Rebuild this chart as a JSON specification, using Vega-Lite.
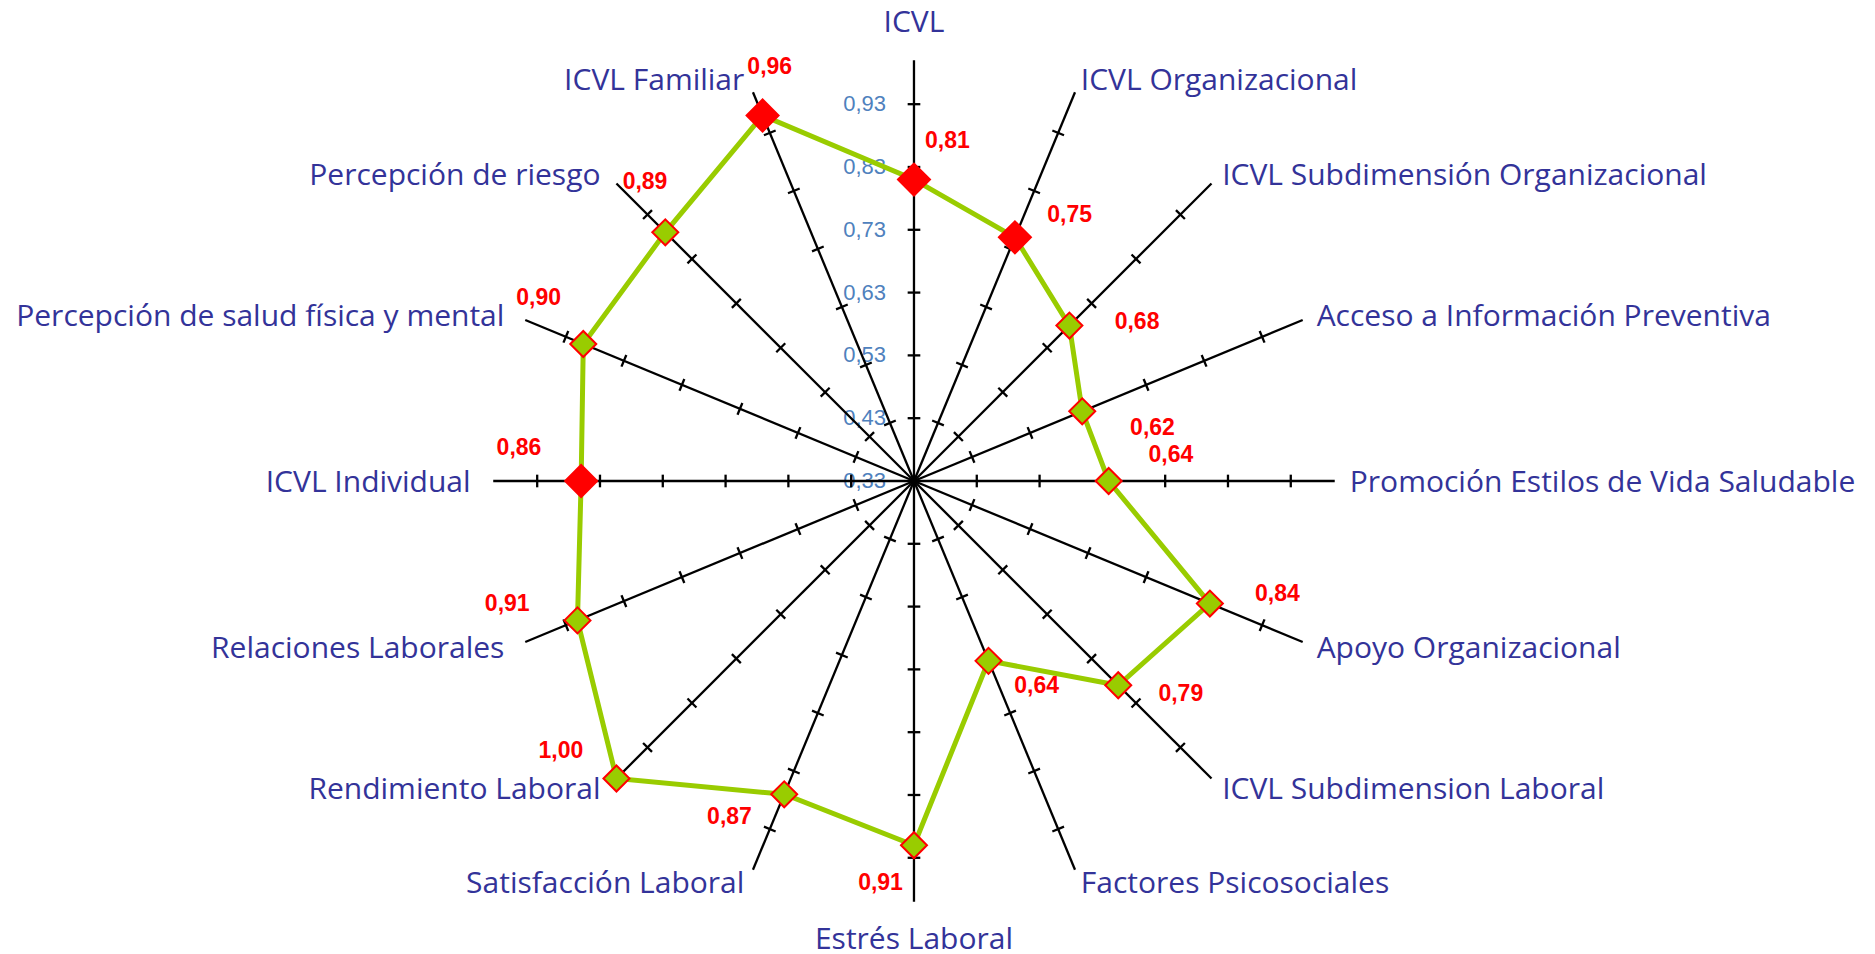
{
  "$schema": "https://vega.github.io/schema/vega-lite/v6.json",
  "width": 1875,
  "height": 954,
  "autosize": {"type": "none"},
  "padding": 0,
  "background": "white",
  "config": {"view": {"stroke": null}},
  "datasets": {
    "ejes": [
      {"idx": 0, "eje": "ICVL", "value": 0.81, "tipo": "indice"},
      {"idx": 1, "eje": "ICVL Organizacional", "value": 0.75, "tipo": "indice"},
      {"idx": 2, "eje": "ICVL Subdimensión Organizacional", "value": 0.68, "tipo": "subdimension"},
      {"idx": 3, "eje": "Acceso a Información Preventiva", "value": 0.62, "tipo": "subdimension"},
      {"idx": 4, "eje": "Promoción Estilos de Vida Saludable", "value": 0.64, "tipo": "subdimension"},
      {"idx": 5, "eje": "Apoyo Organizacional", "value": 0.84, "tipo": "subdimension"},
      {"idx": 6, "eje": "ICVL Subdimension Laboral", "value": 0.79, "tipo": "subdimension"},
      {"idx": 7, "eje": "Factores Psicosociales", "value": 0.64, "tipo": "subdimension"},
      {"idx": 8, "eje": "Estrés Laboral", "value": 0.91, "tipo": "subdimension"},
      {"idx": 9, "eje": "Satisfacción Laboral", "value": 0.87, "tipo": "subdimension"},
      {"idx": 10, "eje": "Rendimiento Laboral", "value": 1.0, "tipo": "subdimension"},
      {"idx": 11, "eje": "Relaciones Laborales", "value": 0.91, "tipo": "subdimension"},
      {"idx": 12, "eje": "ICVL Individual", "value": 0.86, "tipo": "indice"},
      {"idx": 13, "eje": "Percepción de salud física y mental", "value": 0.9, "tipo": "subdimension"},
      {"idx": 14, "eje": "Percepción de riesgo", "value": 0.89, "tipo": "subdimension"},
      {"idx": 15, "eje": "ICVL Familiar", "value": 0.96, "tipo": "indice"}
    ],
    "escala": [
      {"valor": 0.33}, {"valor": 0.43}, {"valor": 0.53}, {"valor": 0.63},
      {"valor": 0.73}, {"valor": 0.83}, {"valor": 0.93}
    ],
    "marcas": [
      {"valor": 0.43, "idx": [0,1,2,3,4,5,6,7,8,9,10,11,12,13,14,15]},
      {"valor": 0.53, "idx": [0,1,2,3,4,5,6,7,8,9,10,11,12,13,14,15]},
      {"valor": 0.63, "idx": [0,1,2,3,4,5,6,7,8,9,10,11,12,13,14,15]},
      {"valor": 0.73, "idx": [0,1,2,3,4,5,6,7,8,9,10,11,12,13,14,15]},
      {"valor": 0.83, "idx": [0,1,2,3,4,5,6,7,8,9,10,11,12,13,14,15]},
      {"valor": 0.93, "idx": [0,1,2,3,4,5,6,7,8,9,10,11,12,13,14,15]}
    ]
  },
  "data": {"name": "ejes"},
  "transform": [
    {"calculate": "datum.idx * PI / 8", "as": "theta"},
    {"calculate": "datum.value - 0.33", "as": "r"},
    {"calculate": "datum.r * sin(datum.theta)", "as": "x"},
    {"calculate": "datum.r * cos(datum.theta)", "as": "y"},
    {"calculate": "0.67 * sin(datum.theta)", "as": "ex"},
    {"calculate": "0.67 * cos(datum.theta)", "as": "ey"},
    {"calculate": "0", "as": "zero"},
    {"calculate": "replace(format(datum.value, '.2f'), '.', ',')", "as": "t"},
    {"calculate": "datum.theta > 1.5 && datum.theta < 3.1 ? -0.0419 : (datum.r > 0.66 ? 0.0857 : 0.0533)", "as": "tq"},
    {"calculate": "datum.r > 0.66 ? 0.4 : 1", "as": "oq"},
    {"calculate": "datum.x + datum.oq * 0.099 * sin(datum.theta) + datum.tq * cos(datum.theta)", "as": "vx"},
    {"calculate": "datum.y + datum.oq * 0.0609 * cos(datum.theta) - datum.tq * sin(datum.theta)", "as": "vy"},
    {"calculate": "datum.idx == 0 || datum.idx == 8 ? 'c' : (datum.idx < 8 ? 'r' : 'l')", "as": "lado"},
    {"calculate": "datum.ex + sin(datum.theta) * (datum.idx < 8 ? 0.024 : 0.036)", "as": "lx"},
    {"calculate": "datum.ey + cos(datum.theta) * (datum.lado == 'c' ? (datum.idx == 0 ? 0.063 : 0.057) : 0.022)", "as": "ly"}
  ],
  "layer": [
    {
      "data": {"name": "escala"},
      "transform": [
        {"calculate": "datum.valor - 0.33", "as": "y"},
        {"calculate": "0", "as": "x"},
        {"calculate": "replace(format(datum.valor, '.2f'), '.', ',')", "as": "t"}
      ],
      "mark": {"type": "text", "align": "right", "baseline": "middle", "dx": -28, "font": "Liberation Sans", "fontSize": 22, "fill": "#4F81BD"},
      "encoding": {
        "x": {"field": "x", "type": "quantitative", "scale": {"domain": [-1.4554, 1.5303], "nice": false, "zero": false}, "axis": null},
        "y": {"field": "y", "type": "quantitative", "scale": {"domain": [-0.7532, 0.7659], "nice": false, "zero": false}, "axis": null},
        "text": {"field": "t"}
      }
    },
    {
      "mark": {"type": "rule", "stroke": "#000000", "strokeWidth": 2.3},
      "encoding": {
        "x": {"field": "zero", "type": "quantitative", "scale": {"domain": [-1.4554, 1.5303], "nice": false, "zero": false}, "axis": null},
        "y": {"field": "zero", "type": "quantitative", "scale": {"domain": [-0.7532, 0.7659], "nice": false, "zero": false}, "axis": null},
        "x2": {"field": "ex"},
        "y2": {"field": "ey"}
      }
    },
    {
      "data": {"name": "marcas"},
      "transform": [
        {"flatten": ["idx"]},
        {"calculate": "datum.idx * PI / 8", "as": "theta"},
        {"calculate": "(datum.valor - 0.33) * sin(datum.theta)", "as": "x"},
        {"calculate": "(datum.valor - 0.33) * cos(datum.theta)", "as": "y"},
        {"calculate": "datum.idx * 22.5", "as": "deg"}
      ],
      "mark": {"type": "point", "shape": "M-1,0L1,0", "size": 160, "filled": false, "stroke": "#000000", "strokeWidth": 2.3, "opacity": 1},
      "encoding": {
        "x": {"field": "x", "type": "quantitative", "scale": {"domain": [-1.4554, 1.5303], "nice": false, "zero": false}, "axis": null},
        "y": {"field": "y", "type": "quantitative", "scale": {"domain": [-0.7532, 0.7659], "nice": false, "zero": false}, "axis": null},
        "angle": {"field": "deg", "type": "quantitative", "scale": null}
      }
    },
    {
      "mark": {"type": "line", "interpolate": "linear-closed", "stroke": "#99CC00", "strokeWidth": 5},
      "encoding": {
        "x": {"field": "x", "type": "quantitative", "scale": {"domain": [-1.4554, 1.5303], "nice": false, "zero": false}, "axis": null},
        "y": {"field": "y", "type": "quantitative", "scale": {"domain": [-0.7532, 0.7659], "nice": false, "zero": false}, "axis": null},
        "order": {"field": "idx", "type": "quantitative"}
      }
    },
    {
      "mark": {"type": "point", "shape": "diamond", "filled": true, "opacity": 1, "stroke": "#FF0000", "strokeWidth": 2},
      "encoding": {
        "x": {"field": "x", "type": "quantitative", "scale": {"domain": [-1.4554, 1.5303], "nice": false, "zero": false}, "axis": null},
        "y": {"field": "y", "type": "quantitative", "scale": {"domain": [-0.7532, 0.7659], "nice": false, "zero": false}, "axis": null},
        "fill": {"field": "tipo", "type": "nominal", "scale": {"domain": ["indice", "subdimension"], "range": ["#FF0000", "#99CC00"]}, "legend": null},
        "size": {"field": "tipo", "type": "nominal", "scale": {"domain": ["indice", "subdimension"], "range": [1024, 676]}, "legend": null}
      }
    },
    {
      "mark": {"type": "text", "align": "center", "baseline": "middle", "font": "Liberation Sans", "fontWeight": "bold", "fontSize": 23, "fill": "#FF0000"},
      "encoding": {
        "x": {"field": "vx", "type": "quantitative", "scale": {"domain": [-1.4554, 1.5303], "nice": false, "zero": false}, "axis": null},
        "y": {"field": "vy", "type": "quantitative", "scale": {"domain": [-0.7532, 0.7659], "nice": false, "zero": false}, "axis": null},
        "text": {"field": "t"}
      }
    },
    {
      "transform": [{"filter": "datum.lado == 'r'"}],
      "mark": {"type": "text", "align": "left", "baseline": "middle", "dy": 2, "font": "Open Sans", "fontSize": 30, "fill": "#333399"},
      "encoding": {
        "x": {"field": "lx", "type": "quantitative", "scale": {"domain": [-1.4554, 1.5303], "nice": false, "zero": false}, "axis": null},
        "y": {"field": "ly", "type": "quantitative", "scale": {"domain": [-0.7532, 0.7659], "nice": false, "zero": false}, "axis": null},
        "text": {"field": "eje"}
      }
    },
    {
      "transform": [{"filter": "datum.lado == 'l'"}],
      "mark": {"type": "text", "align": "right", "baseline": "middle", "dy": 2, "font": "Open Sans", "fontSize": 30, "fill": "#333399"},
      "encoding": {
        "x": {"field": "lx", "type": "quantitative", "scale": {"domain": [-1.4554, 1.5303], "nice": false, "zero": false}, "axis": null},
        "y": {"field": "ly", "type": "quantitative", "scale": {"domain": [-0.7532, 0.7659], "nice": false, "zero": false}, "axis": null},
        "text": {"field": "eje"}
      }
    },
    {
      "transform": [{"filter": "datum.lado == 'c'"}],
      "mark": {"type": "text", "align": "center", "baseline": "middle", "dy": 2, "font": "Open Sans", "fontSize": 30, "fill": "#333399"},
      "encoding": {
        "x": {"field": "lx", "type": "quantitative", "scale": {"domain": [-1.4554, 1.5303], "nice": false, "zero": false}, "axis": null},
        "y": {"field": "ly", "type": "quantitative", "scale": {"domain": [-0.7532, 0.7659], "nice": false, "zero": false}, "axis": null},
        "text": {"field": "eje"}
      }
    }
  ]
}
